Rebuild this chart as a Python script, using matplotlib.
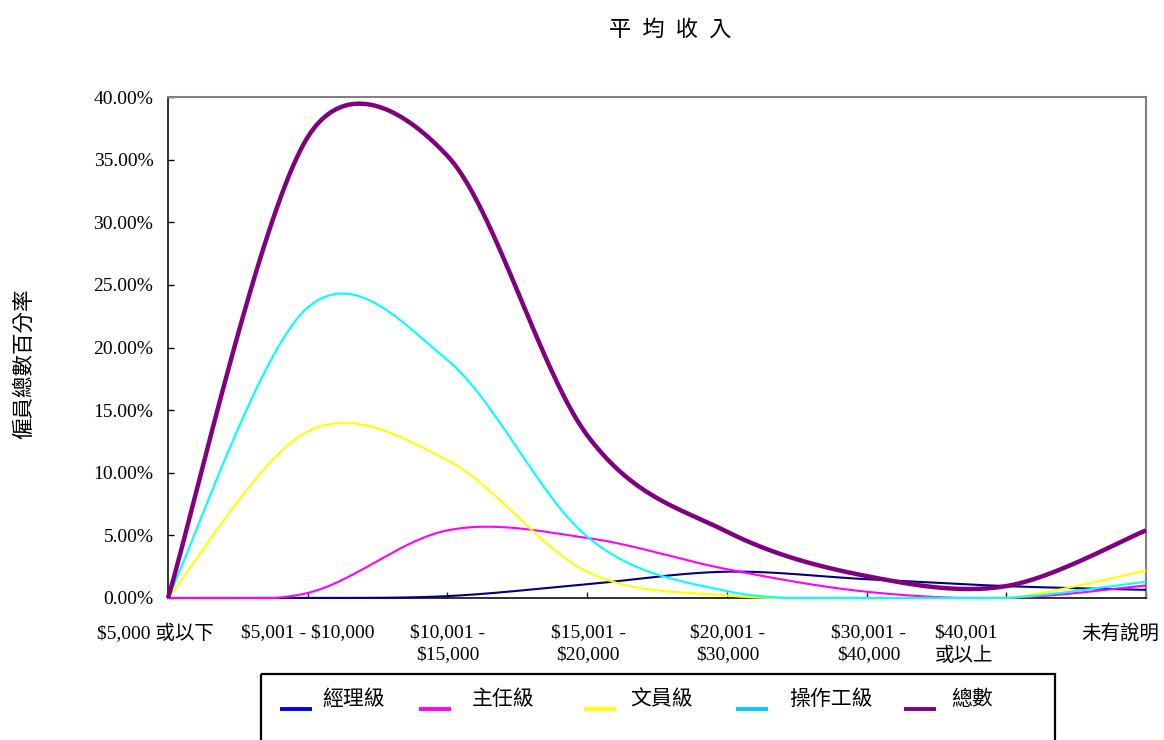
import numpy as np
import matplotlib
matplotlib.use("Agg")
import matplotlib.pyplot as plt
import matplotlib.transforms as mtransforms
from matplotlib.patches import Rectangle
from matplotlib.lines import Line2D

# ---------------- data ----------------
categories = ["$5,000 或以下", "$5,001 - $10,000", "$10,001 -\n$15,000",
              "$15,001 -\n$20,000", "$20,001 -\n$30,000", "$30,001 -\n$40,000",
              "$40,001\n或以上", "未有說明"]
series_names = ["經理級", "主任級", "文員級", "操作工級", "總數"]
manager    = [0.0, 0.0, 0.15, 1.1, 2.1, 1.5, 0.95, 0.65]
supervisor = [0.0, 0.4, 5.4, 4.8, 2.3, 0.5, 0.0, 1.0]
clerk      = [0.0, 13.3, 11.0, 2.1, 0.2, 0.0, 0.0, 2.2]
worker     = [0.0, 23.2, 19.0, 4.9, 0.55, 0.0, 0.0, 1.3]
total      = [0.0, 36.8, 35.3, 13.0, 5.3, 1.75, 0.95, 5.4]
y_ticks = [0, 5, 10, 15, 20, 25, 30, 35, 40]

# ---------------- styles ----------------
line_colors = ["#000080", "#FF00FF", "#FFFF00", "#00FFFF", "#800080"]
legend_colors = ["#0000FF", "#FF00FF", "#FFFF00", "#00CCFF", "#800080"]
line_widths = [1.5, 1.5, 1.5, 1.5, 3.2]
label_dx = [-13, 0, 0, 1, 1, 2, -40, -26]   # pixel offsets of category labels
SERIF = ["Liberation Serif", "Noto Sans CJK TC", "DejaVu Sans"]
CJK = ["Noto Sans CJK TC", "DejaVu Sans"]

W, H = 1164, 740
fig = plt.figure(figsize=(W / 100, H / 100), dpi=100)
L, R, T, B = 168, 1146, 97, 598
ax = fig.add_axes([L / W, 1 - B / H, (R - L) / W, (B - T) / H])
ax.set_xlim(0, len(categories) - 1)
ax.set_ylim(y_ticks[0], y_ticks[-1])


def excel_smooth(ax, xs, ys, n=80):
    """Excel-like smoothed line: Bezier segments computed in display space."""
    pts = ax.transData.transform(np.column_stack([xs, ys]))
    m = len(pts)
    out = []
    for i in range(m - 1):
        p1, p2 = pts[i], pts[i + 1]
        p0 = pts[i - 1] if i > 0 else p1
        p3 = pts[i + 2] if i + 2 < m else p2
        d12 = np.linalg.norm(p2 - p1)
        a1 = (p2 - p0) / 6.0
        a2 = (p3 - p1) / 6.0
        n1, n2 = np.linalg.norm(a1), np.linalg.norm(a2)
        if n1 > d12 / 2:
            a1 = a1 * (d12 / 2) / n1
        if n2 > d12 / 2:
            a2 = a2 * (d12 / 2) / n2
        c1, c2 = p1 + a1, p2 - a2
        t = np.linspace(0, 1, n)[:, None]
        seg = ((1 - t) ** 3) * p1 + 3 * ((1 - t) ** 2) * t * c1 \
            + 3 * (1 - t) * (t ** 2) * c2 + (t ** 3) * p2
        out.append(seg if i == 0 else seg[1:])
    data = ax.transData.inverted().transform(np.vstack(out))
    lo, hi = ax.get_ylim()
    return data[:, 0], np.clip(data[:, 1], lo, hi)


x = np.arange(len(categories))
all_series = [manager, supervisor, clerk, worker, total]
for vals, col, lw in zip(all_series, line_colors, line_widths):
    sx, sy = excel_smooth(ax, x, vals)
    ax.plot(sx, sy, color=col, lw=lw, clip_on=False, zorder=3,
            solid_capstyle="butt", solid_joinstyle="round")

# axes styling
for s in ["top", "right"]:
    ax.spines[s].set_color("#808080")
    ax.spines[s].set_linewidth(1.5)
for s in ["left", "bottom"]:
    ax.spines[s].set_color("#202020")
    ax.spines[s].set_linewidth(1.3)

ax.set_yticks(y_ticks)
ax.set_yticklabels([f"{v:.2f}%" for v in y_ticks])
for lab in ax.get_yticklabels():
    lab.set_fontfamily(SERIF)
    lab.set_fontsize(14)
ax.tick_params(axis="y", direction="in", length=4.5, width=1, pad=10.5, colors="black")
ax.set_xticks(x)
ax.set_xticklabels([])
ax.tick_params(axis="x", direction="in", length=4.5, width=1, colors="#202020")

# category labels
base = mtransforms.blended_transform_factory(ax.transData, ax.transAxes)
for i, (lab, dx) in enumerate(zip(categories, label_dx)):
    tr = base + mtransforms.ScaledTranslation(dx / 100, -26 / 100, fig.dpi_scale_trans)
    ax.text(x[i], 0, lab, transform=tr, ha="center", va="top",
            multialignment="left" if i == 6 else "center",
            fontsize=14, family=SERIF, linespacing=1.38, clip_on=False,
            parse_math=False)

# title and axis label
fig.text(670 / W, 1 - 29 / H, "平\u2002均\u2002收\u2002入", ha="center", va="center",
         fontsize=16, family=CJK)
fig.text(24 / W, 1 - 364 / H, "僱員總數百分率", ha="center", va="center",
         rotation=90, fontsize=15.5, family=CJK)

# legend (drawn manually, box extends past the bottom edge)
ov = fig.add_axes([0, 0, 1, 1], facecolor="none")
ov.set_xlim(0, W)
ov.set_ylim(H, 0)
ov.axis("off")
ov.add_patch(Rectangle((261, 674), 794, 90, fill=False, ec="black", lw=1.6))
swatch_x = [280, 419, 584, 736, 904]
text_x = [322, 472, 630, 789, 951]
for name, col, sxp, txp in zip(series_names, legend_colors, swatch_x, text_x):
    ov.add_line(Line2D([sxp, sxp + 32], [709, 709], color=col, lw=2.8,
                       solid_capstyle="butt"))
    ov.text(txp, 699, name, ha="left", va="center", fontsize=15, family=CJK)

fig.savefig("out.png", dpi=100)
